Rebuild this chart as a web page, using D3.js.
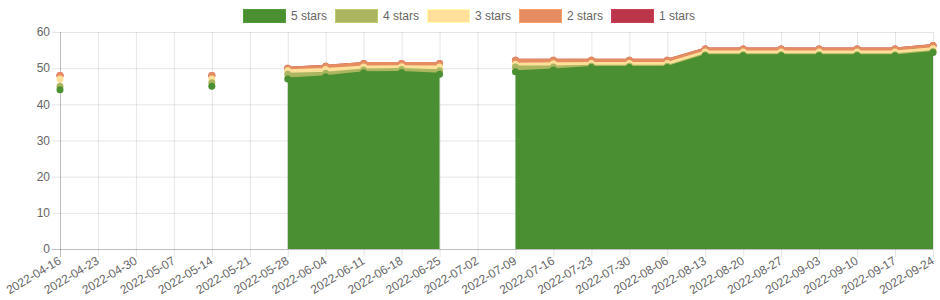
<!DOCTYPE html>
<html>
<head>
<meta charset="utf-8">
<script src="https://cdn.jsdelivr.net/npm/d3@7"></script>
<style>
  body { margin: 0; background: #fff; }
  svg { display: block; font-family: "Liberation Sans", Arial, sans-serif; }
</style>
</head>
<body>
<div id="chart"></div>
<script>
let dates = ["2022-04-16", "2022-04-23", "2022-04-30", "2022-05-07", "2022-05-14", "2022-05-21",
  "2022-05-28", "2022-06-04", "2022-06-11", "2022-06-18", "2022-06-25", "2022-07-02",
  "2022-07-09", "2022-07-16", "2022-07-23", "2022-07-30", "2022-08-06", "2022-08-13",
  "2022-08-20", "2022-08-27", "2022-09-03", "2022-09-10", "2022-09-17", "2022-09-24"];

let fiveStars = [44, null, null, null, 45, null, 47, 47.6, 48.7, 48.8, 48.3, null,
  49, 49.5, 50.2, 50.2, 50.2, 53.4, 53.4, 53.4, 53.4, 53.4, 53.4, 54.3];
let fourStars = [1, null, null, null, 1, null, 1.3, 1, 0.8, 0.8, 1, null,
  1.3, 0.8, 0.3, 0.3, 0.3, 0.3, 0.3, 0.3, 0.3, 0.3, 0.3, 0.3];
let threeStars = [2, null, null, null, 1, null, 1, 1, 0.8, 0.8, 1, null,
  0.8, 0.9, 0.8, 0.8, 0.8, 0.8, 0.8, 0.8, 0.8, 0.8, 0.8, 0.8];
let twoStars = [1, null, null, null, 1, null, 0.7, 0.9, 1, 0.9, 1, null,
  1.1, 1, 0.9, 0.9, 0.9, 0.8, 0.8, 0.8, 0.8, 0.8, 0.8, 0.9];
let oneStar = [0, null, null, null, 0, null, 0, 0, 0, 0, 0, null,
  0, 0, 0, 0, 0, 0, 0, 0, 0, 0, 0, 0];

let seriesNames = ["5 stars", "4 stars", "3 stars", "2 stars", "1 stars"];
let seriesValues = [fiveStars, fourStars, threeStars, twoStars, oneStar];
let colors = ["#4a8f31", "#acb660", "#fee09a", "#e58c60", "#ba374a"];
let yTicks = [0, 10, 20, 30, 40, 50, 60];

let margin = {top: 32, right: 7, bottom: 51, left: 60};
let width = 940 - margin.left - margin.right,
    height = 300 - margin.top - margin.bottom;

let svg = d3.select("#chart").append("svg")
    .attr("width", 940)
    .attr("height", 300);

let g = svg.append("g")
    .attr("transform", "translate(" + margin.left + "," + margin.top + ")");

let x = d3.scalePoint()
    .domain(dates)
    .range([0, width]);

let y = d3.scaleLinear()
    .domain([0, 60])
    .range([height, 0]);

// stack the series by hand so nulls stay as gaps
let stacked = seriesValues.map((vals, si) => dates.map((d, i) => {
    if (vals[i] == null) return {date: d, y0: null, y1: null};
    let low = 0;
    for (let k = 0; k < si; k++) low += seriesValues[k][i];
    return {date: d, y0: low, y1: low + vals[i]};
}));

// grid
let grid = g.append("g");
grid.selectAll(".hgrid")
    .data(yTicks)
    .enter().append("line")
    .attr("x1", -8).attr("x2", width)
    .attr("y1", d => y(d) + 0.5).attr("y2", d => y(d) + 0.5)
    .attr("stroke", d => d === 0 ? "rgba(0,0,0,0.25)" : "rgba(0,0,0,0.1)");
grid.selectAll(".vgrid")
    .data(dates)
    .enter().append("line")
    .attr("x1", d => x(d) + 0.5).attr("x2", d => x(d) + 0.5)
    .attr("y1", 0).attr("y2", height + 8)
    .attr("stroke", (d, i) => i === 0 ? "rgba(0,0,0,0.25)" : "rgba(0,0,0,0.1)");

let area = d3.area()
    .defined(d => d.y1 != null)
    .x(d => x(d.date))
    .y0(d => y(d.y0))
    .y1(d => y(d.y1));

let line = d3.line()
    .defined(d => d.y1 != null)
    .x(d => x(d.date))
    .y(d => y(d.y1));

// draw last dataset first so "5 stars" ends on top
let order = d3.range(seriesValues.length).reverse();
order.forEach(si => {
    let s = g.append("g").attr("class", "series");
    s.append("path")
        .datum(stacked[si])
        .attr("d", area)
        .attr("fill", colors[si]);
    s.append("path")
        .datum(stacked[si])
        .attr("d", line)
        .attr("fill", "none")
        .attr("stroke", colors[si])
        .attr("stroke-width", 3);
    s.selectAll("circle")
        .data(stacked[si].filter(d => d.y1 != null))
        .enter().append("circle")
        .attr("cx", d => x(d.date))
        .attr("cy", d => y(d.y1))
        .attr("r", 3.5)
        .attr("fill", colors[si]);
});

// axes labels
g.append("g").selectAll("text")
    .data(yTicks)
    .enter().append("text")
    .attr("x", -10)
    .attr("y", d => y(d))
    .attr("dy", "0.35em")
    .attr("text-anchor", "end")
    .attr("font-size", 12)
    .attr("fill", "#666")
    .text(d => d);

g.append("g").selectAll("text")
    .data(dates)
    .enter().append("text")
    .attr("transform", d => "translate(" + (x(d) + 2) + "," + (height + 14) + ") rotate(-31)")
    .attr("text-anchor", "end")
    .attr("font-size", 12)
    .attr("fill", "#666")
    .text(d => d);

// legend
let legend = svg.append("g").attr("transform", "translate(243,9)");
let items = legend.selectAll("g")
    .data(seriesNames)
    .enter().append("g")
    .attr("transform", (d, i) => "translate(" + (i * 92) + ",0)");
items.append("rect")
    .attr("x", 0.5).attr("y", 0.5)
    .attr("width", 42).attr("height", 13)
    .attr("fill", (d, i) => colors[i])
    .attr("stroke", (d, i) => d3.color(colors[i]).brighter(0.3))
    .attr("stroke-width", 1);
items.append("text")
    .attr("x", 48)
    .attr("y", 7)
    .attr("dy", "0.35em")
    .attr("font-size", 12)
    .attr("fill", "#666")
    .text(d => d);
</script>
</body>
</html>
